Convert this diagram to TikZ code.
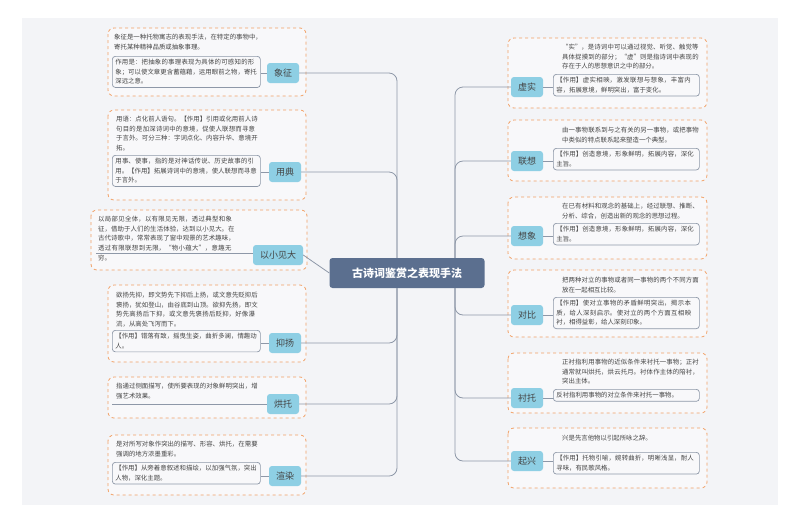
\documentclass[tikz,border=0pt]{standalone}
\usepackage{fontspec}
\setmainfont{Noto Sans CJK SC}
\XeTeXlinebreaklocale "zh"
\XeTeXlinebreakskip=0pt plus 1pt
\begin{document}
\begin{tikzpicture}[x=1pt,y=-1pt,
 outer/.style={draw=orgC,dashed,line width=0.8pt,rounded corners=6pt,fill=boxC},
 topic/.style={fill=topC,rounded corners=3pt,text=txtC,font=\fontsize{9}{10}\selectfont,inner sep=0pt,minimum height=20pt,minimum width=32pt,text depth=0pt},
 txt/.style={anchor=north west,inner sep=0pt,text=txtC,font=\fontsize{6.4}{9.6}\selectfont,align=left},
 subbox/.style={txt,draw=lineC,rounded corners=3pt,inner sep=3pt,line width=0.7pt},
 conn/.style={draw=lineC,line width=0.8pt,rounded corners=8pt}]
\definecolor{orgC}{HTML}{F2A065}
\definecolor{boxC}{HTML}{F8F8FA}
\definecolor{topC}{HTML}{8ECFE4}
\definecolor{txtC}{HTML}{444444}
\definecolor{lineC}{HTML}{8E98A8}
\definecolor{cenC}{HTML}{5B6F8F}
\definecolor{bgC}{HTML}{F3F4F7}
\useasboundingbox (0,0) rectangle (800,523);
\fill[white] (0,0) rectangle (800,523);
\fill[bgC] (22,18) rectangle (778,505);
% outer boxes
\draw[outer] (108,28) rectangle (306,96);
\draw[outer] (108,110) rectangle (306,200);
\draw[outer] (91,210) rectangle (307,270);
\draw[outer] (108,285) rectangle (306,362);
\draw[outer] (108,377) rectangle (306,418);
\draw[outer] (108,435) rectangle (306,495);
\draw[outer] (508,38) rectangle (707,108);
\draw[outer] (508,120) rectangle (707,181);
\draw[outer] (508,197) rectangle (707,259);
\draw[outer] (508,270) rectangle (707,337);
\draw[outer] (508,353) rectangle (707,413);
\draw[outer] (508,428) rectangle (707,488);
% center
\node[fill=cenC,rounded corners=3pt,text=white,font=\fontsize{11}{12}\selectfont\bfseries,minimum width=155pt,minimum height=30pt] (c) at (407,273) {古诗词鉴赏之表现手法};
% topics
\node[topic] (xz) at (283,73) {象征};
\node[topic] (yd) at (285,172) {用典};
\node[topic,minimum width=50pt] (yx) at (278,255) {以小见大};
\node[topic] (yy) at (285,343) {抑扬};
\node[topic] (ht) at (283,404) {烘托};
\node[topic] (xr) at (285,476) {渲染};
\node[topic] (xs) at (527,87) {虚实};
\node[topic] (lx) at (527,161) {联想};
\node[topic] (xx) at (527,236) {想象};
\node[topic] (db) at (527,315) {对比};
\node[topic] (ct) at (527,398) {衬托};
\node[topic] (qx) at (527,461) {起兴};
% main connectors
\draw[conn] (xz.east) -| ([xshift=-10pt]c.north);
\draw[conn] (yd.east) -| ([xshift=-10pt]c.north);
\draw[conn] (yx.east) -- (c.west);
\draw[conn] (yy.east) -| ([xshift=-10pt]c.south);
\draw[conn] (ht.east) -| ([xshift=-10pt]c.south);
\draw[conn] (xr.east) -| ([xshift=-10pt]c.south);
\draw[conn] ([xshift=48pt]c.north) |- (xs.west);
\draw[conn] ([xshift=48pt]c.north) |- (lx.west);
\draw[conn] ([xshift=48pt]c.north) |- (xx.west);
\draw[conn] ([xshift=48pt]c.south) |- (db.west);
\draw[conn] ([xshift=48pt]c.south) |- (ct.west);
\draw[conn] ([xshift=48pt]c.south) |- (qx.west);
% left texts
\node[txt,text width=148pt] (xz1) at (114,34) {象征是一种托物寓志的表现手法，在特定的事物中，寄托某种精神品质或抽象事理。};
\node[subbox,text width=142pt] (xz2) at (112,56) {作用是：把抽象的事理表现为具体的可感知的形象；可以使文章更含蓄蕴藉，运用眼前之物，寄托深远之意。};
\draw[conn] (xz.west) -- (xz.west -| xz2.east);
\node[txt,text width=142pt] (yd1) at (116,116) {用语：点化前人语句。【作用】引用或化用前人诗句目的是加深诗词中的意境，促使人联想而寻意于言外。可分三种：字词点化、内容升华、意境开拓。};
\node[subbox,text width=142pt] (yd2) at (112,155) {用事、使事，指的是对神话传说、历史故事的引用。【作用】拓展诗词中的意境，使人联想而寻意于言外。};
\draw[conn] (yd.west) -- (yd.west -| yd2.east);
\node[txt,text width=138pt] (yx1) at (98,216) {以局部见全体，以有限见无限，透过典型和象征，借助于人们的生活体验，达到以小见大。在古代诗歌中，常常表现了窗中观景的艺术趣味，透过有限联想到无限，“物小蕴大”，意趣无穷。};
\coordinate (yxl) at (96,253);
\draw[conn] (yx.west |- yxl) -- (yxl);
\node[txt,text width=142pt] (yy1) at (116,292) {欲扬先抑，即文势先下抑后上扬，或文意先贬抑后褒扬，犹如登山，由谷底到山顶。欲抑先扬，即文势先高扬后下抑，或文意先褒扬后贬抑，好像瀑流，从高处飞泻而下。};
\node[subbox,text width=142pt] (yy2) at (112,330) {【作用】错落有致，摇曳生姿，曲折多澜，情趣动人。};
\draw[conn] (yy.west) -- (yy.west -| yy2.east);
\node[txt,text width=142pt] (ht1) at (116,383) {指通过侧面描写，使所要表现的对象鲜明突出，增强艺术效果。};
\coordinate (htl) at (112,404);
\draw[conn] (ht.west) -- (htl);
\node[txt,text width=142pt] (xr1) at (116,441) {是对所写对象作突出的描写、形容、烘托，在需要强调的地方浓墨重彩。};
\node[subbox,text width=142pt] (xr2) at (112,462) {【作用】从旁着意叙述和描绘，以加强气氛，突出人物，深化主题。};
\draw[conn] (xr.west) -- (xr.west -| xr2.east);
% right texts
\node[txt,text width=138pt] (xs1) at (562,44) {“实”，是诗词中可以通过视觉、听觉、触觉等具体捉摸到的部分；“虚”则是指诗词中表现的存在于人的思想意识之中的部分。};
\node[subbox,text width=140pt] (xs2) at (553,74) {【作用】虚实相映，激发联想与想象，丰富内容，拓展意境，鲜明突出，富于变化。};
\draw[conn] (xs.east) -- (xs.east -| xs2.west);
\node[txt,text width=138pt] (lx1) at (562,127) {由一事物联系到与之有关的另一事物，或把事物中类似的特点联系起来塑造一个典型。};
\node[subbox,text width=140pt] (lx2) at (553,148) {【作用】创造意境，形象鲜明，拓展内容，深化主旨。};
\draw[conn] (lx.east) -- (lx.east -| lx2.west);
\node[txt,text width=138pt] (xx1) at (562,203) {在已有材料和观念的基础上，经过联想、推断、分析、综合，创造出新的观念的思想过程。};
\node[subbox,text width=140pt] (xx2) at (553,223) {【作用】创造意境，形象鲜明，拓展内容，深化主旨。};
\draw[conn] (xx.east) -- (xx.east -| xx2.west);
\node[txt,text width=138pt] (db1) at (562,277) {把两种对立的事物或者同一事物的两个不同方面放在一起相互比较。};
\node[subbox,text width=140pt] (db2) at (553,297) {【作用】使对立事物的矛盾鲜明突出，揭示本质，给人深刻启示。使对立的两个方面互相映衬，相得益彰，给人深刻印象。};
\draw[conn] (db.east) -- (db.east -| db2.west);
\node[txt,text width=138pt] (ct1) at (562,359) {正衬指利用事物的近似条件来衬托一事物；正衬通常就叫烘托，烘云托月。衬体作主体的陪衬，突出主体。};
\node[subbox,text width=140pt] (ct2) at (553,389) {反衬指利用事物的对立条件来衬托一事物。};
\draw[conn] (ct.east) -- (ct.east -| ct2.west);
\node[txt,text width=138pt] (qx1) at (562,435) {兴是先言他物以引起所咏之辞。};
\node[subbox,text width=140pt] (qx2) at (553,452) {【作用】托物引喻，婉转曲折，明晰浅显，耐人寻味，有民歌风格。};
\draw[conn] (qx.east) -- (qx.east -| qx2.west);
\end{tikzpicture}
\end{document}
